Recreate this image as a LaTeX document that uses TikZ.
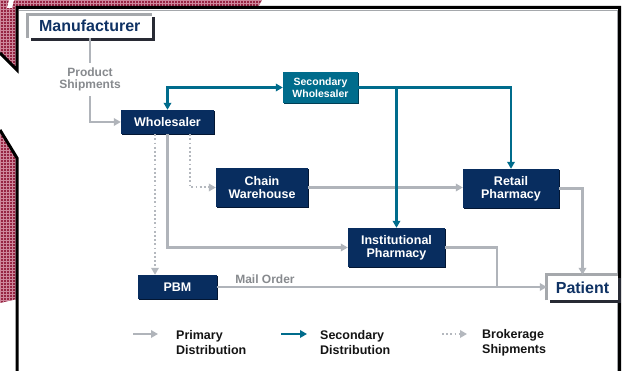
\documentclass[tikz,border=0pt]{standalone}
\usepackage{fontspec}
\setmainfont{Liberation Sans}
\usetikzlibrary{arrows.meta,shadows}

\definecolor{navy}{RGB}{8,45,95}
\definecolor{navydark}{RGB}{3,22,50}
\definecolor{secteal}{RGB}{0,108,140}
\definecolor{secdark}{RGB}{0,62,85}
\definecolor{linegray}{RGB}{176,180,186}
\definecolor{dotgray}{RGB}{180,184,190}
\definecolor{labelgray}{RGB}{135,138,142}
\definecolor{boxgray}{RGB}{165,168,172}
\definecolor{boxdark}{RGB}{40,42,52}
\definecolor{endtext}{RGB}{15,50,100}
\definecolor{legendblack}{RGB}{20,20,20}
\definecolor{maroon}{RGB}{150,36,66}
\definecolor{checkline}{RGB}{205,135,155}

\tikzset{
  flowbox/.style={fill=navy, text=white, align=center, inner sep=0pt,
    font=\bfseries\fontsize{12.5}{13}\selectfont,
    general shadow={fill=navydark, shadow xshift=1.3pt, shadow yshift=-1.3pt}},
  secbox/.style={fill=secteal, text=white, align=center, inner sep=0pt,
    font=\bfseries\fontsize{10.5}{11.7}\selectfont,
    general shadow={fill=secdark, shadow xshift=1.3pt, shadow yshift=-1.3pt}},
  endbox/.style={fill=white, text=endtext, inner sep=0pt,
    font=\bfseries\fontsize{16}{17}\selectfont,
    general shadow={fill=boxdark, shadow xshift=3pt, shadow yshift=-3pt}},
  endedge/.style={draw=boxgray, line width=3pt},
  lbl/.style={text=labelgray, align=center, inner sep=0pt,
    font=\bfseries\fontsize{12}{12.7}\selectfont},
  legtext/.style={text=legendblack, align=left, inner sep=0pt, anchor=west,
    font=\bfseries\fontsize{12.5}{15}\selectfont},
  tip/.style={-{Triangle[length=7pt,width=7.5pt]}},
  prim/.style={draw=linegray, line width=2.5pt},
  secline/.style={draw=secteal, line width=2.5pt},
  brok/.style={draw=dotgray, line width=2pt, dash pattern=on 1.8pt off 2.4pt}
}

\begin{document}
\begin{tikzpicture}[x=1pt,y=-1pt]
\useasboundingbox (0,0) rectangle (622,371);
\fill[white] (0,0) rectangle (622,371);

% checked backdrop on the left
\fill[maroon] (0,0) -- (262,0) -- (258,7) -- (17,7) -- (17,70) -- (0,53) -- cycle;
\fill[maroon] (0,130) -- (17,158) -- (17,299) -- (0,303) -- cycle;
\begin{scope}
  \clip (0,0) -- (262,0) -- (258,7) -- (17,7) -- (17,70) -- (0,53) -- cycle
        (0,130) -- (17,158) -- (17,299) -- (0,303) -- cycle;
  \draw[checkline, line width=0.5pt, step=3pt] (0,0) grid (270,310);
\end{scope}
\fill[white] (9,0) -- (14,0) -- (12,8) -- (7,8) -- cycle;

% panel outline
\draw[black, line width=3pt] (0,53) -- (17,70) -- (17,7.5) -- (619.5,7.5) -- (619.5,371);
\draw[black, line width=3pt] (0,130) -- (17,158) -- (17,371);
\draw[boxgray, line width=0.8pt] (19,10) -- (617,10) -- (617,371);

% nodes
\node[endbox, minimum width=124.5pt, minimum height=23.5pt] (mfr) at (89.75,26.25) {Manufacturer};
\draw[endedge] (mfr.south west) -- (mfr.north west) -- (mfr.north east);
\node[endbox, minimum width=71pt, minimum height=25pt] (pat) at (582.5,287.5) {Patient};
\draw[endedge] (pat.south west) -- (pat.north west) -- (pat.north east);

\node[flowbox, minimum width=93pt, minimum height=24pt] (whs) at (167.5,122) {Wholesaler};
\node[secbox, minimum width=75pt, minimum height=31pt] (sec) at (320.5,87.5) {Secondary\\Wholesaler};
\node[flowbox, minimum width=92pt, minimum height=39pt] (chw) at (262,187.5) {Chain\\Warehouse};
\node[flowbox, minimum width=96pt, minimum height=39pt] (ret) at (511,188.5) {Retail\\Pharmacy};
\node[flowbox, minimum width=97pt, minimum height=39pt] (ins) at (396.5,247.5) {Institutional\\Pharmacy};
\node[flowbox, minimum width=79pt, minimum height=24pt] (pbm) at (177.5,287) {PBM};

\node[lbl, minimum height=33pt] (ps) at (90,79.5) {Product\\Shipments};
\node[lbl] (mail) at (265,279) {Mail Order};

% primary distribution
\draw[prim] (mfr.south -| ps.north) -- (ps.north);
\draw[prim, tip] (ps.south) |- (whs.west);
\draw[prim, tip] (whs.south) |- (ins.west);
\draw[prim, tip] (chw.east) -- (ret.west |- chw.east);
\draw[prim, tip] (ret.east) -| (pat.north);
\coordinate (join) at (497,287);
\draw[prim] (ins.east) -| (join);
\draw[prim, tip] (pbm.east) -- (pbm.east -| pat.west);

% secondary distribution
\draw[secline, {Triangle[length=7pt,width=7.5pt]}-{Triangle[length=7pt,width=7.5pt]}] (whs.north) |- (sec.west);
\draw[secline, tip] (sec.east) -| (ret.north);
\draw[secline, tip] (ins.north |- sec.east) -- (ins.north);

% brokerage shipments
\coordinate (wb1) at ([xshift=-12.5pt]whs.south);
\coordinate (wb2) at ([xshift=22.5pt]whs.south);
\draw[brok, tip] (wb1) -- (wb1 |- pbm.north);
\draw[brok, tip] (wb2) |- (chw.west);

% legend
\coordinate (k1s) at (133,334);
\coordinate (k1e) at (158,334);
\draw[prim, tip] (k1s) -- (k1e);
\node[legtext] (k1t) at (176,343) {Primary\\Distribution};
\coordinate (k2s) at (281,334);
\coordinate (k2e) at (307,334);
\draw[secline, tip] (k2s) -- (k2e);
\node[legtext] (k2t) at (320,343) {Secondary\\Distribution};
\coordinate (k3s) at (442,334);
\coordinate (k3e) at (467,334);
\draw[brok, tip] (k3s) -- (k3e);
\node[legtext] (k3t) at (482,343) {Brokerage\\Shipments};
\end{tikzpicture}
\end{document}
